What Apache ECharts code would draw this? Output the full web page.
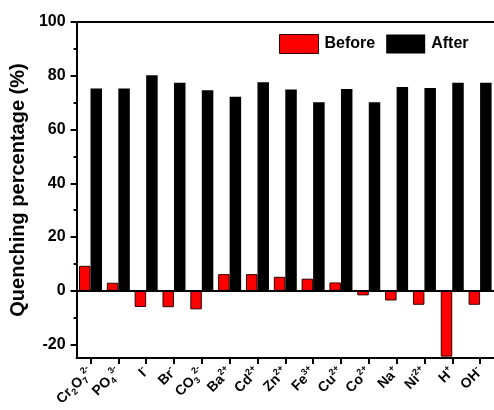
<!DOCTYPE html>
<html>
<head>
<meta charset="utf-8">
<script src="https://cdn.jsdelivr.net/npm/echarts@6/dist/echarts.min.js"></script>
<style>
  html, body { margin: 0; padding: 0; background: #fff; }
  #chart { width: 494px; height: 410px; }
</style>
</head>
<body>
<div id="chart"></div>
<script>
// Ions tested (rich-text markup for sub/superscripts)
const categories = [
  'Cr{sub|2}O{sub|7}{sup|2-}', 'PO{sub|4}{sup|3-}', 'I{sup|-}', 'Br{sup|-}', 'CO{sub|3}{sup|2-}',
  'Ba{sup|2+}', 'Cd{sup|2+}', 'Zn{sup|2+}', 'Fe{sup|3+}', 'Cu{sup|2+}',
  'Co{sup|2+}', 'Na{sup|+}', 'Ni{sup|2+}', 'H{sup|+}', 'OH{sup|-}'
];
// Quenching percentage (%) before and after
const beforeValues = [9.3, 3.0, -6.0, -6.1, -6.9, 6.2, 6.2, 5.2, 4.5, 3.1, -1.7, -3.6, -5.2, -24.5, -5.2];
const afterValues  = [75.3, 75.3, 80.2, 77.4, 74.6, 72.2, 77.6, 74.9, 70.1, 75.1, 70.1, 75.8, 75.4, 77.4, 77.4];
// Y axis tick values
const majorTicks = [-20, 0, 20, 40, 60, 80, 100];
const minorTicks = [-20, -10, 0, 10, 20, 30, 40, 50, 60, 70, 80, 90, 100];

const FONT = 'Arial, "Liberation Sans", sans-serif';
const chart = echarts.init(document.getElementById('chart'), null, { renderer: 'canvas' });

chart.setOption({
  animation: false,
  backgroundColor: '#fff',
  grid: { left: 74, top: 22, width: 421, height: 336, containLabel: false },
  legend: {
    left: 279, top: 34, padding: 0,
    itemWidth: 39, itemHeight: 19, itemGap: 11,
    icon: 'rect',
    textStyle: { fontFamily: FONT, fontWeight: 'bold', fontSize: 16, color: '#000', padding: [0, 0, 0, 1] },
    data: [
      { name: 'Before', itemStyle: { color: '#ff0000', borderColor: '#300', borderWidth: 1 } },
      { name: 'After', itemStyle: { color: '#000' } }
    ]
  },
  xAxis: [
    {
      type: 'category',
      data: categories,
      position: 'bottom',
      axisLine: { onZero: false, lineStyle: { color: '#000', width: 2 } },
      axisTick: { show: true, alignWithLabel: true, length: 6, lineStyle: { color: '#000', width: 2 } },
      axisLabel: {
        interval: 0, rotate: 45, margin: 12,
        fontFamily: FONT, fontWeight: 'bold', fontSize: 14, color: '#000', lineHeight: 18,
        rich: {
          sub: { fontFamily: FONT, fontWeight: 'bold', fontSize: 9, lineHeight: 9, verticalAlign: 'bottom', color: '#000' },
          sup: { fontFamily: FONT, fontWeight: 'bold', fontSize: 9, lineHeight: 9, verticalAlign: 'top', color: '#000' }
        }
      },
      splitLine: { show: false }
    },
    {
      type: 'category',
      data: categories,
      position: 'top',
      axisLine: { onZero: false, lineStyle: { color: '#000', width: 2 } },
      axisTick: { show: false },
      axisLabel: { show: false },
      splitLine: { show: false }
    }
  ],
  yAxis: [
    {
      type: 'value',
      min: -25, max: 100,
      name: 'Quenching percentage (%)',
      nameLocation: 'middle',
      nameGap: 44,
      nameTextStyle: { fontFamily: FONT, fontWeight: 'bold', fontSize: 20, color: '#000' },
      axisLine: { show: true, lineStyle: { color: '#000', width: 2 } },
      axisTick: { show: true, length: 6, customValues: majorTicks, lineStyle: { color: '#000', width: 2 } },
      axisLabel: { customValues: majorTicks, margin: 11, fontFamily: FONT, fontWeight: 'bold', fontSize: 16, color: '#000' },
      splitLine: { show: false }
    },
    {
      type: 'value',
      min: -25, max: 100,
      position: 'left',
      axisLine: { show: false },
      axisTick: { show: true, length: 3, customValues: minorTicks, lineStyle: { color: '#000', width: 2 } },
      axisLabel: { show: false },
      splitLine: { show: false }
    }
  ],
  series: [
    {
      name: 'Before', type: 'bar', data: beforeValues,
      barWidth: 11.5, barGap: '0%',
      itemStyle: { color: '#ff0000', borderColor: '#300', borderWidth: 1 }
    },
    {
      name: 'After', type: 'bar', data: afterValues,
      barWidth: 11.5, barGap: '0%',
      itemStyle: { color: '#000' },
      markLine: {
        silent: true, symbol: 'none', label: { show: false },
        lineStyle: { color: '#000', width: 2, type: 'solid' },
        data: [{ yAxis: 0 }]
      }
    }
  ]
});
</script>
</body>
</html>
